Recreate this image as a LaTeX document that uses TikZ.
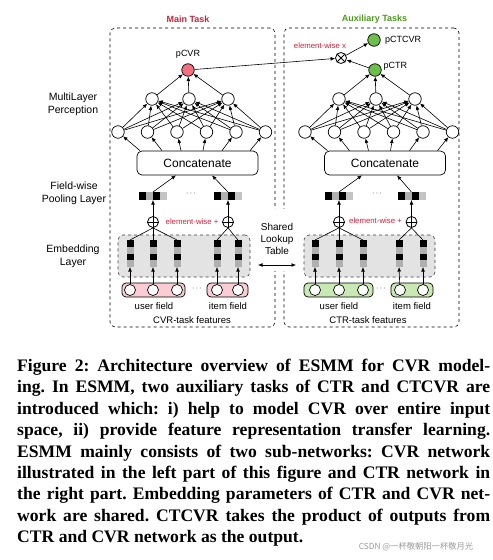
\documentclass[tikz,border=0pt]{standalone}
\usepackage{fontspec}
\setmainfont{Liberation Serif}
\setsansfont{Liberation Sans}
\renewcommand{\familydefault}{\sfdefault}
\newfontfamily\cjkfont{Noto Sans CJK SC}
\usetikzlibrary{arrows.meta,calc}
\definecolor{mainred}{HTML}{D0213A}
\definecolor{auxgreen}{HTML}{4E9A1E}
\definecolor{pinkout}{HTML}{F2707F}
\definecolor{greenout}{HTML}{6CC04A}
\definecolor{pinkfield}{HTML}{F9CDD3}
\definecolor{greenfield}{HTML}{C8E8B4}
\definecolor{embfill}{HTML}{E3E3E3}
\definecolor{cellgray}{HTML}{B0B0B0}
\definecolor{cellgrayb}{HTML}{C4C4C4}
\definecolor{wmgray}{HTML}{9A9A9A}
\newcommand\poolvec[3]{%
  \node[inner sep=0pt,outer sep=0pt,minimum width=28pt,minimum height=8pt] (#1) at (#2,#3) {};
  \fill[black] (#1.north west) rectangle ++(7,8);
  \fill[cellgray] ($(#1.north west)+(7,0)$) rectangle ++(7,8);
  \fill[black] ($(#1.north west)+(14,0)$) rectangle ++(7,8);
  \fill[cellgrayb] ($(#1.north west)+(21,0)$) rectangle ++(7,8);
}
\newcommand\embcol[3]{%
  \node[inner sep=0pt,outer sep=0pt,minimum width=7pt,minimum height=27pt] (#1) at (#2,#3) {};
  \fill[black] (#1.north west) rectangle ++(7,6.75);
  \fill[cellgray] ($(#1.north west)+(0,6.75)$) rectangle ++(7,6.75);
  \fill[black] ($(#1.north west)+(0,13.5)$) rectangle ++(7,6.75);
  \fill[cellgray] ($(#1.north west)+(0,20.25)$) rectangle ++(7,6.75);
}
\newcommand\capline[1]{\hbox to 473pt{#1}}
\begin{document}
\begin{tikzpicture}[x=1pt,y=-1pt,
  neuron/.style={circle,draw,line width=0.7pt,fill=white,minimum size=12.5pt,inner sep=0pt},
  fieldn/.style={circle,draw,line width=0.7pt,fill=white,minimum size=11pt,inner sep=0pt},
  opnode/.style={circle,draw,line width=0.8pt,fill=white,minimum size=11pt,inner sep=0pt},
  arr/.style={-{Latex[length=4.5pt,width=3.8pt]},line width=0.6pt},
  conn/.style={line width=0.6pt},
  taskbox/.style={draw,dashed,line width=0.6pt,rounded corners=5pt,inner sep=0pt,outer sep=0pt},
  embbox/.style={draw=black!75,dashed,fill=embfill,line width=0.6pt,rounded corners=5pt,inner sep=0pt},
  fieldbox/.style={draw,line width=0.7pt,rounded corners=4pt,inner sep=0pt,minimum height=14pt},
  catbox/.style={draw,line width=0.7pt,rounded corners=5pt,minimum width=121pt,minimum height=24pt,inner sep=0pt,font=\sffamily\fontsize{12}{14}\selectfont},
  lbl/.style={font=\sffamily\fontsize{10.5}{12.5}\selectfont,align=center,inner sep=0pt},
  small/.style={font=\sffamily\fontsize{9.5}{11}\selectfont,inner sep=0pt},
  outlbl/.style={font=\sffamily\fontsize{9}{11}\selectfont,inner sep=0pt},
  ewlbl/.style={font=\sffamily\fontsize{7.8}{9}\selectfont,text=mainred,inner sep=0pt},
  dots/.style={font=\sffamily\fontsize{8}{9}\selectfont,inner sep=0pt}
]
\useasboundingbox (0,0) rectangle (493,560);
\fill[white] (0,0) rectangle (493,560);

% task boxes and titles
\node[taskbox,minimum width=165pt,minimum height=299pt] (mainbox) at (192.5,177.5) {};
\node[taskbox,minimum width=175pt,minimum height=299pt] (auxbox) at (371.5,177.5) {};
\node[font=\sffamily\bfseries\fontsize{9}{11}\selectfont,text=mainred,inner sep=0pt] (mainlbl) at (188,19) {Main Task};
\node[font=\sffamily\bfseries\fontsize{9}{11}\selectfont,text=auxgreen,inner sep=0pt] (auxlbl) at (374.5,19) {Auxiliary Tasks};

% layer labels
\node[lbl] (mlplbl) at (73,104.5) {MultiLayer\\Perception};
\node[lbl] (poollbl) at (74,193.5) {Field-wise\\Pooling Layer};
\node[lbl] (emblbl) at (73,256.5) {Embedding\\Layer};

% shared lookup table
\fill[white] (257,209) rectangle (298,271);
\node[align=center,font=\sffamily\fontsize{10}{12}\selectfont,inner sep=0pt] (shared) at (277,239) {Shared\\Lookup\\Table};
\coordinate (sl) at (258,265);
\coordinate (sr) at (296,265);
\draw[{Latex[length=4.5pt,width=3.8pt]}-{Latex[length=4.5pt,width=3.8pt]},line width=0.6pt] (sl) -- (sr);

% ---------- LEFT (CVR) ----------
\node[neuron,fill=pinkout] (o1) at (188,70) {};
\node[outlbl] (o1lbl) at (188,54) {pCVR};
\node[neuron] (a1) at (152,99) {};
\node[neuron] (a2) at (189,99) {};
\node[neuron] (a3) at (228,99) {};
\foreach \i/\x in {1/118,2/147.5,3/177,4/206.5,5/236,6/265.5}
  \node[neuron] (b\i) at (\x,132) {};
\node[catbox] (cl) at (197.5,163) {Concatenate};

\foreach \i in {1,2,3} \draw[arr] (a\i) -- (o1);
\foreach \i in {1,...,6} \foreach \j in {1,2,3} \draw[arr] (b\i) -- (a\j);
\foreach \i/\dx in {1/-57.5,2/-35.5,3/-16.5,4/5.5,5/24.5,6/52.5}
  \draw[arr] ($(cl.north)+(\dx,0)$) -- (b\i);

\poolvec{pv1}{153}{196}
\poolvec{pv2}{228}{196}
\node[dots] (pdl) at (191,194) {$\cdots$};
\draw[arr] (pv1.north) -- ($(cl.south)+(-21.5,0)$);
\draw[arr] (pv2.north) -- ($(cl.south)+(14.5,0)$);

\node[opnode] (op1) at (153,222) {};
\node[opnode] (op2) at (228,222) {};
\foreach \n in {op1,op2} \draw[line width=0.8pt] (\n.north) -- (\n.south) (\n.west) -- (\n.east);
\node[ewlbl] (ewl) at (192,222) {element-wise +};
\draw[arr] (op1) -- (pv1.south);
\draw[arr] (op2) -- (pv2.south);

\node[embbox,minimum width=132pt,minimum height=42pt] (embl) at (184,256) {};
\embcol{e1}{130}{253.5}
\embcol{e2}{153}{253.5}
\embcol{e3}{177}{253.5}
\embcol{e4}{217}{253.5}
\embcol{e5}{238}{253.5}
\foreach \e in {e1,e2,e3} \draw[conn] (op1.south) -- (\e.north);
\foreach \e in {e4,e5} \draw[conn] (op2.south) -- (\e.north);

\node[fieldbox,fill=pinkfield,minimum width=63pt] (ufl) at (153.5,290) {};
\node[fieldbox,fill=pinkfield,minimum width=41pt] (ifl) at (227.5,290) {};
\node[fieldn] (f1) at (130,290) {};
\node[fieldn] (f2) at (153,290) {};
\node[fieldn] (f3) at (177,290) {};
\node[fieldn] (f4) at (217,290) {};
\node[fieldn] (f5) at (238,290) {};
\node[dots] (fdl) at (197,289) {$\cdots$};
\foreach \i in {1,...,5} \draw[arr] (f\i) -- (e\i.south);
\node[small] (ulbl) at (154,306) {user field};
\node[small] (ilbl) at (228,306) {item field};
\node[small] (cvrf) at (192,320.5) {CVR-task features};

% ---------- RIGHT (CTR) ----------
\node[neuron,fill=greenout] (o2) at (375,70) {};
\node[neuron,fill=greenout] (o3) at (374,40) {};
\node[outlbl,anchor=west] (o2lbl) at (383.5,66) {pCTR};
\node[outlbl,anchor=west] (o3lbl) at (385,40) {pCTCVR};
\node[opnode] (ox) at (341,58) {};
\draw[line width=0.8pt] (ox.north west) -- (ox.south east) (ox.north east) -- (ox.south west);
\node[ewlbl] (ewx) at (320,46) {element-wise x};
\draw[arr] (o1) -- (ox);
\draw[arr] (o2) -- (ox);
\draw[arr] (ox) -- (o3);

\node[neuron] (c1) at (339,99) {};
\node[neuron] (c2) at (376,99) {};
\node[neuron] (c3) at (415,99) {};
\foreach \i/\x in {1/305,2/334.5,3/364,4/393.5,5/423,6/452.5}
  \node[neuron] (d\i) at (\x,132) {};
\node[catbox] (cr) at (385,163) {Concatenate};

\foreach \i in {1,2,3} \draw[arr] (c\i) -- (o2);
\foreach \i in {1,...,6} \foreach \j in {1,2,3} \draw[arr] (d\i) -- (c\j);
\foreach \i/\dx in {1/-57.5,2/-35.5,3/-16.5,4/5.5,5/24.5,6/52.5}
  \draw[arr] ($(cr.north)+(\dx,0)$) -- (d\i);

\poolvec{pv3}{339}{196}
\poolvec{pv4}{411.5}{196}
\node[dots] (pdr) at (377,194) {$\cdots$};
\draw[arr] (pv3.north) -- ($(cr.south)+(-23,0)$);
\draw[arr] (pv4.north) -- ($(cr.south)+(12,0)$);

\node[opnode] (op3) at (339,222) {};
\node[opnode] (op4) at (411.5,222) {};
\foreach \n in {op3,op4} \draw[line width=0.8pt] (\n.north) -- (\n.south) (\n.west) -- (\n.east);
\node[ewlbl] (ewr) at (375.5,221) {element-wise +};
\draw[arr] (op3) -- (pv3.south);
\draw[arr] (op4) -- (pv4.south);

\node[embbox,minimum width=131pt,minimum height=42pt] (embr) at (369.5,256) {};
\embcol{g1}{315}{253.5}
\embcol{g2}{339}{253.5}
\embcol{g3}{363}{253.5}
\embcol{g4}{399}{253.5}
\embcol{g5}{423}{253.5}
\foreach \e in {g1,g2,g3} \draw[conn] (op3.south) -- (\e.north);
\foreach \e in {g4,g5} \draw[conn] (op4.south) -- (\e.north);

\node[fieldbox,fill=greenfield,minimum width=69pt] (ufr) at (338.5,290) {};
\node[fieldbox,fill=greenfield,minimum width=42pt] (ifr) at (412,290) {};
\node[fieldn] (h1) at (315,290) {};
\node[fieldn] (h2) at (339,290) {};
\node[fieldn] (h3) at (363,290) {};
\node[fieldn] (h4) at (400,290) {};
\node[fieldn] (h5) at (423,290) {};
\node[dots] (fdr) at (381,289) {$\cdots$};
\foreach \i in {1,...,5} \draw[arr] (h\i) -- (g\i.south);
\node[small] (urlbl) at (339,306) {user field};
\node[small] (irlbl) at (412,306) {item field};
\node[small] (ctrf) at (368,320.5) {CTR-task features};

% ---------- caption ----------
\node[anchor=north west,inner sep=0pt,font=\rmfamily\bfseries\fontsize{17.6}{21.4}\selectfont\frenchspacing] (cap) at (17,359) {\vbox{%
\capline{Figure 2: Architecture overview of ESMM for CVR model-}
\capline{ing. In ESMM, two auxiliary tasks of CTR and CTCVR are}
\capline{introduced which: i) help to model CVR over entire input}
\capline{space, ii) provide feature representation transfer learning.}
\capline{ESMM mainly consists of two sub-networks: CVR network}
\capline{illustrated in the left part of this figure and CTR network in}
\capline{the right part. Embedding parameters of CTR and CVR net-}
\capline{work are shared. CTCVR takes the product of outputs from}
\hbox{CTR and CVR network as the output.}}};
\node[font=\cjkfont\fontsize{8.3}{10}\selectfont,text=wmgray,inner sep=0pt] (wm) at (416,547) {CSDN @一杯敬朝阳一杯敬月光};
\end{tikzpicture}
\end{document}
